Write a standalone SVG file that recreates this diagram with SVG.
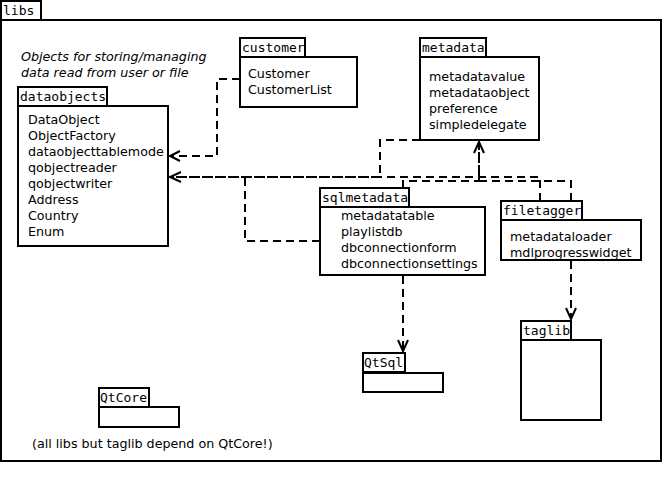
<svg xmlns="http://www.w3.org/2000/svg" width="666" height="486" viewBox="0 0 666 486">
<style>
.box{fill:#fff;stroke:#000;stroke-width:2}
.tab{font-family:"DejaVu Sans Mono","Liberation Mono",monospace;font-size:13px;fill:#000}
.item{font-family:"DejaVu Sans","Liberation Sans",sans-serif;font-size:12.7px;fill:#000}
.note{font-family:"DejaVu Sans","Liberation Sans",sans-serif;font-size:12.7px;fill:#000}
.con{fill:none;stroke:#000;stroke-width:2;stroke-dasharray:8,5}
.head{fill:none;stroke:#000;stroke-width:2}
</style>
<rect width="666" height="486" fill="#fff"/>
<g id="libs">
<rect class="box" x="1" y="1" width="40" height="19"/>
<rect class="box" x="1" y="20" width="660" height="441"/>
<text class="tab" x="3" y="15">libs</text>
</g>
<g id="dataobjects">
<text class="note" x="21" y="61" font-style="italic">Objects for storing/managing</text>
<text class="note" x="21" y="77" font-style="italic">data read from user or file</text>
<rect class="box" x="18" y="87" width="89" height="19"/>
<rect class="box" x="18" y="106" width="150" height="140"/>
<text class="tab" x="20" y="101">dataobjects</text>
<text class="item" x="28" y="124">DataObject</text>
<text class="item" x="28" y="140">ObjectFactory</text>
<text class="item" x="28" y="156">dataobjecttablemode</text>
<text class="item" x="28" y="172">qobjectreader</text>
<text class="item" x="28" y="188">qobjectwriter</text>
<text class="item" x="28" y="204">Address</text>
<text class="item" x="28" y="220">Country</text>
<text class="item" x="28" y="236">Enum</text>
</g>
<g id="customer">
<rect class="box" x="240" y="38" width="65" height="19"/>
<rect class="box" x="240" y="57" width="117" height="50"/>
<text class="tab" x="242" y="52">customer</text>
<text class="item" x="248" y="78">Customer</text>
<text class="item" x="248" y="94">CustomerList</text>
</g>
<g id="metadata">
<rect class="box" x="420" y="38" width="66" height="19"/>
<rect class="box" x="420" y="57" width="119" height="83"/>
<text class="tab" x="422" y="52">metadata</text>
<text class="item" x="429" y="81">metadatavalue</text>
<text class="item" x="429" y="97">metadataobject</text>
<text class="item" x="429" y="113">preference</text>
<text class="item" x="429" y="129">simpledelegate</text>
</g>
<g id="connectors">
<path class="con" d="M240,79 H217 V156 H170"/>
<path class="head" d="M180,151 L170,156 L180,161"/>
<path class="con" d="M420,140 H380 V177 H170" stroke-dasharray="20,18"/>
<path class="con" d="M540,201 V177 H170" stroke-dasharray="26,8,6,8"/>
<path class="head" d="M181,172 L170,177 L181,182"/>
<path class="con" d="M320,241 H245 V177"/>
<path class="con" d="M403,188 V181 H479 V142"/>
<path class="con" d="M571,201 V181 H479 V142"/>
<path class="head" d="M474,153 L479,142 L484,153"/>
<path class="con" d="M403,276 V350"/>
<path class="head" d="M398,340 L403,351 L408,340"/>
<path class="con" d="M571,261 V318"/>
<path class="head" d="M566,308 L571,319 L576,308"/>
</g>
<g id="sqlmetadata">
<rect class="box" x="320" y="188" width="89" height="19"/>
<rect class="box" x="320" y="207" width="165" height="68"/>
<text class="tab" x="322" y="202">sqlmetadata</text>
<text class="item" x="341" y="220">metadatatable</text>
<text class="item" x="341" y="236">playlistdb</text>
<text class="item" x="341" y="252">dbconnectionform</text>
<text class="item" x="341" y="268">dbconnectionsettings</text>
</g>
<g id="filetagger">
<rect class="box" x="501" y="201" width="81" height="19"/>
<rect class="box" x="501" y="220" width="140" height="40"/>
<text class="tab" x="503" y="215">filetagger</text>
<text class="item" x="510" y="241">metadataloader</text>
<text class="item" x="510" y="257">mdlprogresswidget</text>
</g>
<g id="QtSql">
<rect class="box" x="363" y="353" width="42" height="19"/>
<rect class="box" x="363" y="373" width="80" height="19"/>
<text class="tab" x="364" y="367">QtSql</text>
</g>
<g id="taglib">
<rect class="box" x="521" y="321" width="50" height="19"/>
<rect class="box" x="521" y="340" width="80" height="80"/>
<text class="tab" x="523" y="335">taglib</text>
</g>
<g id="QtCore">
<rect class="box" x="99" y="388" width="50" height="19"/>
<rect class="box" x="99" y="407" width="80" height="20"/>
<text class="tab" x="100" y="402">QtCore</text>
<text class="note" x="32" y="448">(all libs but taglib depend on QtCore!)</text>
</g>
</svg>
